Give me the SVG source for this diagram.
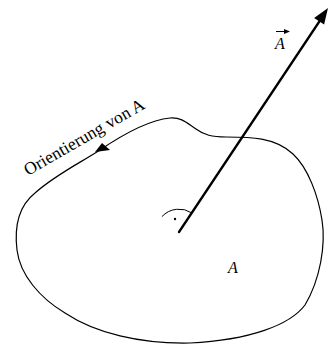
<svg xmlns="http://www.w3.org/2000/svg" width="329" height="347" viewBox="0 0 329 347">
<style>
.lbl{font-family:"Liberation Serif","Times New Roman",serif;fill:#000}
.it{font-style:italic}
.ln{fill:none;stroke:#000;stroke-linecap:round}
</style>
<rect width="329" height="347" fill="#fff"/>
<g id="area">
<path class="ln" stroke-width="1.2" d="M170,118 C182,117 188,124 196,129 C204,135 212,137 226,137 C250,137 275,137 293,154 C308,168 318,195 322,220 C326,245 320,280 305,305 C290,325 250,340 190,343 C140,344 95,333 65,313 C40,298 20,275 17,250 C14,225 20,205 35,193 C55,175 80,163 100,150 C125,133 150,120 170,118 Z"/>
<polygon points="95,152 102,143 110,150" fill="#000"/>
<text class="lbl" font-size="17.5" transform="translate(28,176) rotate(-30)">Orientierung von A</text>
<text class="lbl it" font-size="16" x="228" y="273">A</text>
</g>
<g id="connectors">
<line class="ln" x1="179" y1="232" x2="321" y2="19" stroke-width="2.3"/>
<polygon points="328,8 324.1,24.6 314.1,18" fill="#000"/>
<path class="ln" stroke-width="1" d="M162.2,216.3 A23 23 0 0 1 191.7,212.8"/>
<circle cx="175" cy="219" r="1.2" fill="#000"/>
</g>
<g id="vector-label">
<text class="lbl it" font-size="16" x="275" y="48.5">A</text>
<line x1="276" y1="31.5" x2="286" y2="31.5" stroke="#000" stroke-width="1"/>
<polygon points="284,29 290,31.5 284,34" fill="#000"/>
</g>
</svg>
